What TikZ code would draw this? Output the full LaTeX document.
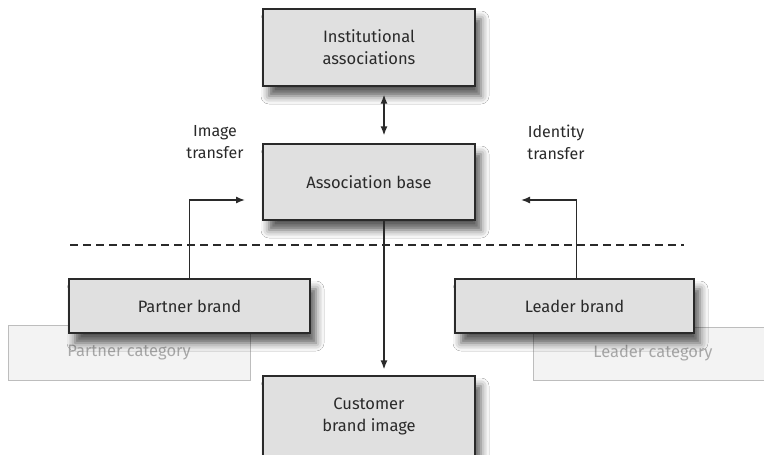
\documentclass[tikz,border=0pt]{standalone}
\usepackage{fontspec}
\setmainfont{Fira Sans}
\usetikzlibrary{shadows.blur,arrows.meta}
\definecolor{boxfill}{HTML}{E0E0E0}
\definecolor{catfill}{HTML}{F3F3F3}
\definecolor{catline}{HTML}{BDBDBD}
\definecolor{cattext}{HTML}{A8A8A8}
\definecolor{ink}{HTML}{2A2A2A}
\tikzset{
  mainbox/.style={draw=ink, line width=1.3pt, fill=boxfill, align=center,
    text=ink, font=\fontsize{16.5}{22}\selectfont,
    blur shadow={shadow xshift=6pt, shadow yshift=-10pt, shadow blur radius=8pt, shadow opacity=65}},
  catbox/.style={draw=catline, line width=1pt, fill=catfill, align=center,
    text=cattext, font=\fontsize{16.5}{22}\selectfont},
  tip/.style={-{Latex[length=9pt,width=7pt]}},
  flow/.style={draw=ink, line width=1.4pt, tip},
  lbl/.style={text=ink, align=center, font=\fontsize{16}{22}\selectfont}
}
\begin{document}
\begin{tikzpicture}[x=1pt,y=-1pt]
  \useasboundingbox[fill=white] (0,0) rectangle (764,455);
  % category boxes sit behind the brand boxes
  \node[catbox, minimum width=242, minimum height=55] (pcat) at (129,352.5) {Partner category};
  \node[catbox, minimum width=240, minimum height=53] (lcat) at (653,353.5) {Leader category};
  % main boxes
  \node[mainbox, minimum width=212, minimum height=77] (inst) at (369,47.5) {Institutional\\associations};
  \node[mainbox, minimum width=212, minimum height=76] (base) at (369,182) {Association base};
  \node[mainbox, minimum width=212, minimum height=80] (cust) at (369,416) {Customer\\brand image};
  \node[mainbox, minimum width=241, minimum height=54] (pbrand) at (189.5,306) {Partner brand};
  \node[mainbox, minimum width=239, minimum height=54] (lbrand) at (574.5,306) {Leader brand};
  % separator
  \coordinate (dashL) at (70,245);
  \coordinate (dashR) at (684,245);
  \draw[ink, line width=1.3pt, dash pattern=on 8pt off 5pt] (dashL) -- (dashR);
  % connectors
  \draw[flow, {Latex[length=9pt,width=7pt]}-{Latex[length=9pt,width=7pt]}]
    ([xshift=15pt,yshift=-8pt]inst.south) -- ([xshift=15pt,yshift=8pt]base.north);
  \draw[flow] ([xshift=15pt]base.south) -- ([xshift=15pt,yshift=6pt]cust.north);
  \coordinate (imgEnd) at (245,200);
  \coordinate (idEnd) at (521,200);
  \draw[flow] (pbrand.north) |- (imgEnd);
  \draw[flow] ([xshift=2pt]lbrand.north) |- (idEnd);
  % transfer labels
  \node[lbl] (imgLbl) at (215,142) {Image\\transfer};
  \node[lbl] (idLbl) at (556,142) {Identity\\transfer};
\end{tikzpicture}
\end{document}
